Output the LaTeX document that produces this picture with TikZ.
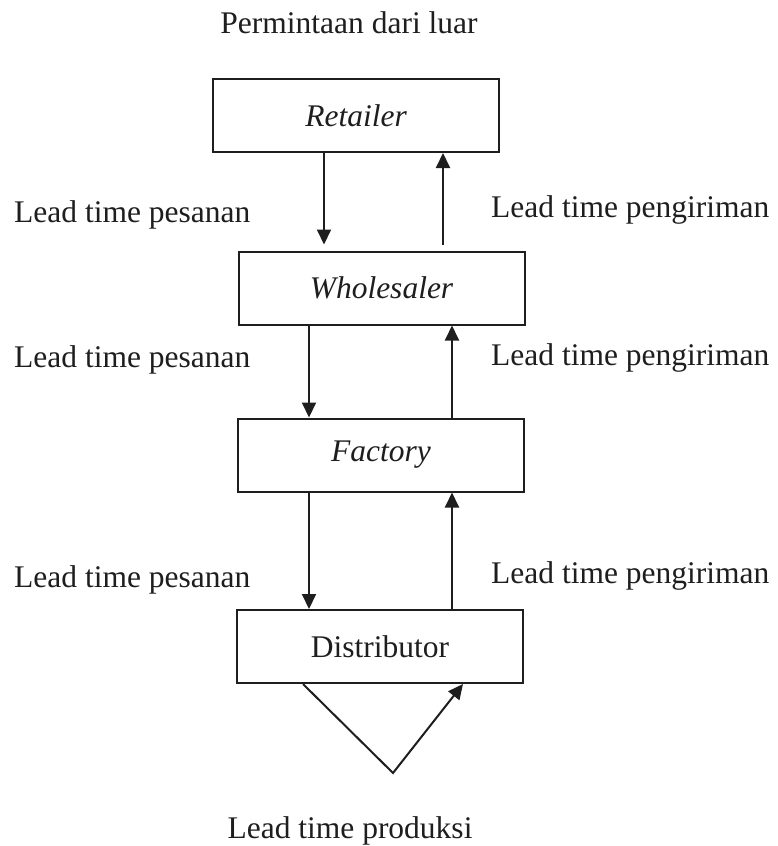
\documentclass[tikz,border=0pt]{standalone}
\usepackage{fontspec}
\setmainfont{Liberation Serif}
\usetikzlibrary{arrows.meta}
\definecolor{ink}{RGB}{30,30,30}
\tikzset{
  stage/.style={draw=ink, line width=2pt, minimum width=286pt, minimum height=73pt,
    inner sep=0pt, text=ink, font=\fontsize{31.5}{36}\selectfont},
  lbl/.style={text=ink, inner sep=0pt, font=\fontsize{31.5}{36}\selectfont},
  arr/.style={draw=ink, line width=2pt, -{Triangle[length=15pt,width=14pt]}}
}
\begin{document}
\begin{tikzpicture}[x=1pt,y=-1pt]
\useasboundingbox (0,0) rectangle (777,846);

% supply chain stages
\node[stage] (ret) at (356,115.5) {\itshape Retailer};
\node[stage] (whl) at (381.5,288) {\itshape Wholesaler};
\node[stage] (fac) at (381,455) {\itshape Factory};
\node[stage] (dis) at (380,646.5) {Distributor};

% arrow columns
\coordinate (ra) at (324,0);
\coordinate (rb) at (443,0);
\coordinate (da) at (309,0);
\coordinate (ub) at (452,0);
\coordinate (pa) at (303,0);
\coordinate (pb) at (463,0);
\coordinate (prod) at (393,773);

% orders flowing down, deliveries flowing up
\draw[arr, shorten >=6pt] (ret.south -| ra) -- (whl.north -| ra);
\draw[arr, shorten <=6pt] (whl.north -| rb) -- (ret.south -| rb);
\draw[arr] (whl.south -| da) -- (fac.north -| da);
\draw[arr] (fac.north -| ub) -- (whl.south -| ub);
\draw[arr] (fac.south -| da) -- (dis.north -| da);
\draw[arr] (dis.north -| ub) -- (fac.south -| ub);

% production loop
\draw[arr] (dis.south -| pa) -- (prod) -- (dis.south -| pb);

% labels
\node[lbl, anchor=base] (dem) at (349,33) {Permintaan dari luar};
\node[lbl, anchor=base west] (o1) at (14,222) {Lead time pesanan};
\node[lbl, anchor=base west] (o2) at (14,367) {Lead time pesanan};
\node[lbl, anchor=base west] (o3) at (14,587) {Lead time pesanan};
\node[lbl, anchor=base west] (s1) at (491,217) {Lead time pengiriman};
\node[lbl, anchor=base west] (s2) at (491,365) {Lead time pengiriman};
\node[lbl, anchor=base west] (s3) at (491,583) {Lead time pengiriman};
\node[lbl, anchor=base] (lp) at (350,838) {Lead time produksi};
\end{tikzpicture}
\end{document}
